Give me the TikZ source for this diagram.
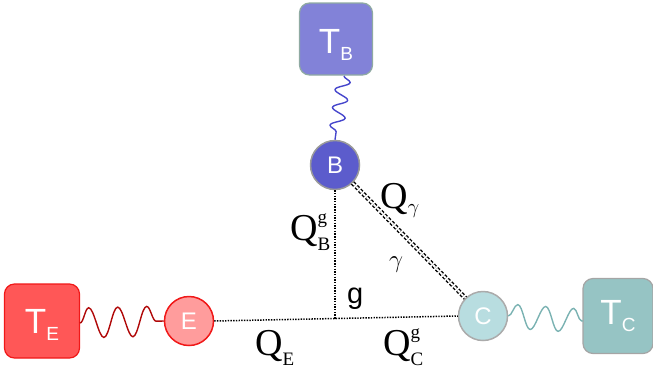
\documentclass[tikz,border=0pt]{standalone}
\usepackage{fontspec}
\setmainfont{Liberation Serif}
\newfontfamily\arialf{Liberation Sans}
\usetikzlibrary{decorations.pathmorphing}
\definecolor{tbfill}{HTML}{8282D8}
\definecolor{tbdraw}{HTML}{8FAAA2}
\definecolor{bfill}{HTML}{5C5CCC}
\definecolor{bdraw}{HTML}{9A9A9A}
\definecolor{bwave}{HTML}{4646CC}
\definecolor{tefill}{HTML}{FF5757}
\definecolor{tedraw}{HTML}{F01818}
\definecolor{efill}{HTML}{FF9C9C}
\definecolor{edraw}{HTML}{F01818}
\definecolor{ewave}{HTML}{B00808}
\definecolor{cfill}{HTML}{B8DDE0}
\definecolor{cdraw}{HTML}{ABABAB}
\definecolor{tcfill}{HTML}{96C4C4}
\definecolor{tcdraw}{HTML}{A5A5A5}
\definecolor{cwave}{HTML}{7AB2B2}
\newcommand{\Tlab}[1]{{\arialf\fontsize{35}{35}\selectfont T}\raisebox{-7pt}{\arialf\fontsize{19}{19}\selectfont #1}}
\newcommand{\Qlab}[2]{{\fontsize{38}{38}\selectfont Q}\makebox[0pt][l]{\raisebox{17pt}{\fontsize{19}{19}\selectfont #1}}\raisebox{-10pt}{\fontsize{19}{19}\selectfont #2}}
\begin{document}
\begin{tikzpicture}[x=1pt,y=-1pt,
  reservoir/.style={rectangle,rounded corners=10pt,line width=1.2pt,text=white,inner sep=0pt,text depth=0pt},
  body/.style={circle,line width=1.5pt,text=white,inner sep=0pt,minimum size=49pt,font=\arialf\fontsize{24}{24}\selectfont},
  wave/.style={line width=1.4pt,decorate,decoration={snake,segment length=29pt,amplitude=15pt}},
  heat/.style={line width=1.5pt,dash pattern=on 1.4pt off 1.3pt},
  rad/.style={draw=black,line width=1.4pt,double=white,double distance=1.8pt,dash pattern=on 3pt off 2pt},
  lab/.style={anchor=base west,inner sep=0pt}]
\useasboundingbox (0,0) rectangle (653,373);
% nodes
\node[reservoir,fill=tbfill,draw=tbdraw,minimum width=73pt,minimum height=72pt,text height=28pt] (TB) at (336,39) {\Tlab{B}};
\node[body,fill=bfill,draw=bdraw] (B) at (335,165) {B};
\node[reservoir,fill=tefill,draw=tedraw,minimum width=75pt,minimum height=74pt,text height=24pt] (TE) at (42,321) {\Tlab{E}};
\node[body,fill=efill,draw=edraw] (E) at (189,321) {E};
\node[body,fill=cfill,draw=cdraw] (C) at (483,316) {C};
\node[reservoir,fill=tcfill,draw=tcdraw,minimum width=70pt,minimum height=75pt,text height=16pt] (TC) at (618,316) {\Tlab{C}};
\coordinate (g) at (335,318.5);
\coordinate (tbout) at (344,76);
\coordinate (teout) at (80,323);
\coordinate (tcin) at (583,321);
% connectors
\draw[wave,draw=bwave,decoration={segment length=18pt,amplitude=7pt}] (tbout) -- (B.north);
\draw[wave,draw=ewave] (teout) -- (E.west);
\draw[wave,draw=cwave,decoration={segment length=28pt,amplitude=12pt}] (C.east) -- (tcin);
\draw[heat] (E.east) -- (C.west);
\draw[heat] (B.south) -- (g);
\draw[rad] (B) -- (C);
% labels
\node[lab] (QBg) at (290,240) {\Qlab{g}{B}};
\node[lab] (Qgam) at (380,208) {{\fontsize{38}{38}\selectfont Q}\raisebox{-5pt}{\fontsize{22}{22}\selectfont$\gamma$}};
\node[lab] (gam) at (389,267) {\fontsize{32}{32}\selectfont$\gamma$};
\node[lab] (glab) at (347,303) {\arialf\fontsize{29}{29}\selectfont g};
\node[lab] (QE) at (255,355) {\Qlab{}{E}};
\node[lab] (QCg) at (383,355) {\Qlab{g}{C}};
\end{tikzpicture}
\end{document}
